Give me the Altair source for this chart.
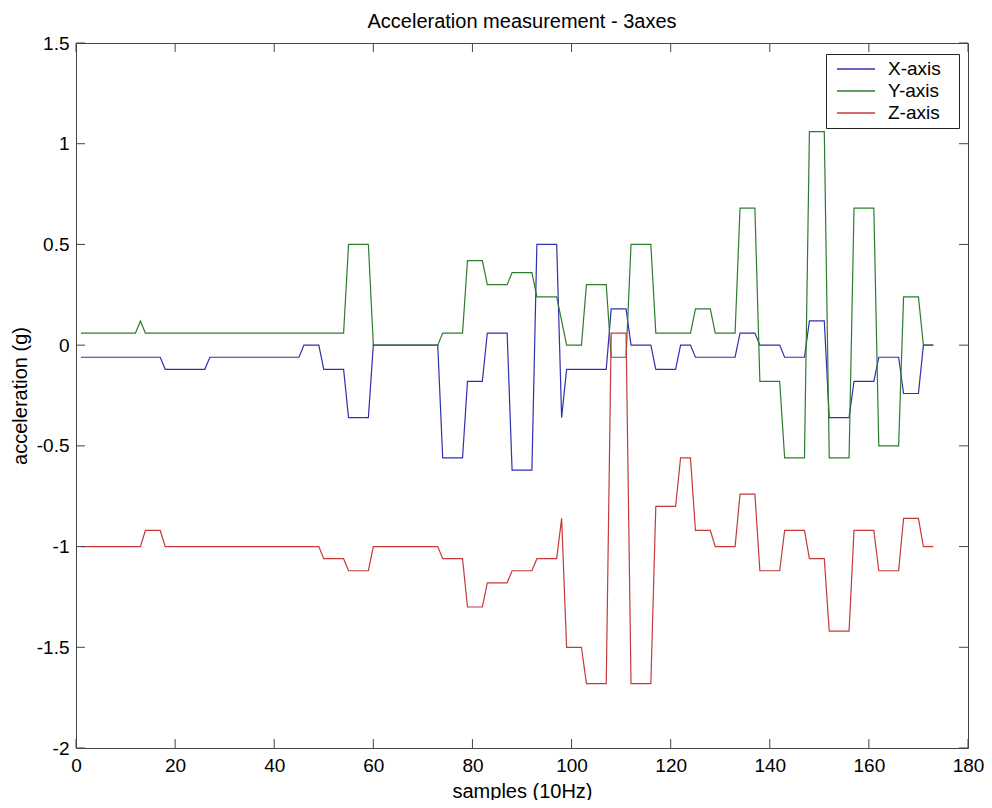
import altair as alt
import pandas as pd

# ---------------- data ----------------
samples = list(range(1, 174))

x_axis = [
    -0.06, -0.06, -0.06, -0.06, -0.06, -0.06, -0.06, -0.06, -0.06, -0.06,
    -0.06, -0.06, -0.06, -0.06, -0.06, -0.06, -0.06, -0.12, -0.12, -0.12,
    -0.12, -0.12, -0.12, -0.12, -0.12, -0.12, -0.06, -0.06, -0.06, -0.06,
    -0.06, -0.06, -0.06, -0.06, -0.06, -0.06, -0.06, -0.06, -0.06, -0.06,
    -0.06, -0.06, -0.06, -0.06, -0.06, 0, 0, 0, 0, -0.12,
    -0.12, -0.12, -0.12, -0.12, -0.36, -0.36, -0.36, -0.36, -0.36, 0,
    0, 0, 0, 0, 0, 0, 0, 0, 0, 0,
    0, 0, 0, -0.56, -0.56, -0.56, -0.56, -0.56, -0.18, -0.18,
    -0.18, -0.18, 0.06, 0.06, 0.06, 0.06, 0.06, -0.62, -0.62, -0.62,
    -0.62, -0.62, 0.5, 0.5, 0.5, 0.5, 0.5, -0.36, -0.12, -0.12,
    -0.12, -0.12, -0.12, -0.12, -0.12, -0.12, -0.12, 0.18, 0.18, 0.18,
    0.18, 0, 0, 0, 0, 0, -0.12, -0.12, -0.12, -0.12,
    -0.12, 0, 0, 0, -0.06, -0.06, -0.06, -0.06, -0.06, -0.06,
    -0.06, -0.06, -0.06, 0.06, 0.06, 0.06, 0.06, 0, 0, 0,
    0, 0, -0.06, -0.06, -0.06, -0.06, -0.06, 0.12, 0.12, 0.12,
    0.12, -0.36, -0.36, -0.36, -0.36, -0.36, -0.18, -0.18, -0.18, -0.18,
    -0.18, -0.06, -0.06, -0.06, -0.06, -0.06, -0.24, -0.24, -0.24, -0.24,
    0, 0, 0,
]

y_axis = [
    0.06, 0.06, 0.06, 0.06, 0.06, 0.06, 0.06, 0.06, 0.06, 0.06,
    0.06, 0.06, 0.12, 0.06, 0.06, 0.06, 0.06, 0.06, 0.06, 0.06,
    0.06, 0.06, 0.06, 0.06, 0.06, 0.06, 0.06, 0.06, 0.06, 0.06,
    0.06, 0.06, 0.06, 0.06, 0.06, 0.06, 0.06, 0.06, 0.06, 0.06,
    0.06, 0.06, 0.06, 0.06, 0.06, 0.06, 0.06, 0.06, 0.06, 0.06,
    0.06, 0.06, 0.06, 0.06, 0.5, 0.5, 0.5, 0.5, 0.5, 0,
    0, 0, 0, 0, 0, 0, 0, 0, 0, 0,
    0, 0, 0, 0.06, 0.06, 0.06, 0.06, 0.06, 0.42, 0.42,
    0.42, 0.42, 0.3, 0.3, 0.3, 0.3, 0.3, 0.36, 0.36, 0.36,
    0.36, 0.36, 0.24, 0.24, 0.24, 0.24, 0.24, 0.12, 0, 0,
    0, 0, 0.3, 0.3, 0.3, 0.3, 0.3, -0.06, -0.06, -0.06,
    -0.06, 0.5, 0.5, 0.5, 0.5, 0.5, 0.06, 0.06, 0.06, 0.06,
    0.06, 0.06, 0.06, 0.06, 0.18, 0.18, 0.18, 0.18, 0.06, 0.06,
    0.06, 0.06, 0.06, 0.68, 0.68, 0.68, 0.68, -0.18, -0.18, -0.18,
    -0.18, -0.18, -0.56, -0.56, -0.56, -0.56, -0.56, 1.06, 1.06, 1.06,
    1.06, -0.56, -0.56, -0.56, -0.56, -0.56, 0.68, 0.68, 0.68, 0.68,
    0.68, -0.5, -0.5, -0.5, -0.5, -0.5, 0.24, 0.24, 0.24, 0.24,
    0, 0, 0,
]

z_axis = [
    -1, -1, -1, -1, -1, -1, -1, -1, -1, -1,
    -1, -1, -1, -0.92, -0.92, -0.92, -0.92, -1, -1, -1,
    -1, -1, -1, -1, -1, -1, -1, -1, -1, -1,
    -1, -1, -1, -1, -1, -1, -1, -1, -1, -1,
    -1, -1, -1, -1, -1, -1, -1, -1, -1, -1.06,
    -1.06, -1.06, -1.06, -1.06, -1.12, -1.12, -1.12, -1.12, -1.12, -1,
    -1, -1, -1, -1, -1, -1, -1, -1, -1, -1,
    -1, -1, -1, -1.06, -1.06, -1.06, -1.06, -1.06, -1.3, -1.3,
    -1.3, -1.3, -1.18, -1.18, -1.18, -1.18, -1.18, -1.12, -1.12, -1.12,
    -1.12, -1.12, -1.06, -1.06, -1.06, -1.06, -1.06, -0.86, -1.5, -1.5,
    -1.5, -1.5, -1.68, -1.68, -1.68, -1.68, -1.68, 0.06, 0.06, 0.06,
    0.06, -1.68, -1.68, -1.68, -1.68, -1.68, -0.8, -0.8, -0.8, -0.8,
    -0.8, -0.56, -0.56, -0.56, -0.92, -0.92, -0.92, -0.92, -1, -1,
    -1, -1, -1, -0.74, -0.74, -0.74, -0.74, -1.12, -1.12, -1.12,
    -1.12, -1.12, -0.92, -0.92, -0.92, -0.92, -0.92, -1.06, -1.06, -1.06,
    -1.06, -1.42, -1.42, -1.42, -1.42, -1.42, -0.92, -0.92, -0.92, -0.92,
    -0.92, -1.12, -1.12, -1.12, -1.12, -1.12, -0.86, -0.86, -0.86, -0.86,
    -1, -1, -1,
]

series_names = ["X-axis", "Y-axis", "Z-axis"]
series_colors = ["#3030b0", "#2e7d2e", "#c43a3a"]
x_tick_values = [0, 20, 40, 60, 80, 100, 120, 140, 160, 180]
y_tick_values = [-2, -1.5, -1, -0.5, 0, 0.5, 1, 1.5]

assert len(x_axis) == len(y_axis) == len(z_axis) == len(samples)

rows = []
for name, vals in zip(series_names, [x_axis, y_axis, z_axis]):
    for s, v in zip(samples, vals):
        rows.append({"sample": s, "value": v, "series": name})
df = pd.DataFrame(rows)

# ---------------- layout / style ----------------
W, H = 892, 705
FONT = "Liberation Sans"
TICK = 9
FRAME = "#444444"

x_scale = alt.Scale(domain=[0, 180], nice=False, zero=False)
y_scale = alt.Scale(domain=[-2, 1.5], nice=False, zero=False)

x_axis_def = alt.Axis(
    values=x_tick_values, title="samples (10Hz)", ticks=False, tickSize=0,
    domain=False, grid=False, labelPadding=8, labelFontSize=19,
    labelColor="black", labelFont=FONT, titleFont=FONT, titleFontSize=20,
    titleFontWeight="normal", titleColor="black", titlePadding=6,
    labelFlush=False, labelOverlap=False,
)
y_axis_def = alt.Axis(
    values=y_tick_values, title="acceleration (g)", ticks=False, tickSize=0,
    domain=False, grid=False, labelPadding=7, labelFontSize=19,
    labelColor="black", labelFont=FONT, titleFont=FONT, titleFontSize=20,
    titleFontWeight="normal", titleColor="black", titlePadding=6,
    labelExpr="'' + datum.value", labelFlush=False, labelOverlap=False,
)

lines = alt.Chart(df).mark_line(strokeWidth=1.2).encode(
    x=alt.X("sample:Q", scale=x_scale, axis=x_axis_def),
    y=alt.Y("value:Q", scale=y_scale, axis=y_axis_def),
    color=alt.Color(
        "series:N",
        scale=alt.Scale(domain=series_names, range=series_colors),
        legend=alt.Legend(
            title="\u00a0", titleOrient="right", titlePadding=13,
            titleFontSize=19, titleFont=FONT,
            orient="none", legendX=750, legendY=11,
            symbolType="stroke", symbolSize=1444, symbolStrokeWidth=1.5,
            clipHeight=20, padding=5, rowPadding=2, symbolOffset=5,
            labelOffset=12, labelFontSize=19, labelFont=FONT,
            labelColor="black", strokeColor="#222222", fillColor="white",
        ),
    ),
)

xt = pd.DataFrame({"sample": x_tick_values})
yt = pd.DataFrame({"value": y_tick_values})

top_ticks = alt.Chart(xt).mark_rule(color=FRAME, strokeWidth=1).encode(
    x=alt.X("sample:Q", scale=x_scale, axis=x_axis_def),
    y=alt.value(0), y2=alt.value(TICK),
)
bottom_ticks = alt.Chart(xt).mark_rule(color=FRAME, strokeWidth=1).encode(
    x=alt.X("sample:Q", scale=x_scale, axis=x_axis_def),
    y=alt.value(H), y2=alt.value(H - TICK),
)
left_ticks = alt.Chart(yt).mark_rule(color=FRAME, strokeWidth=1).encode(
    y=alt.Y("value:Q", scale=y_scale, axis=y_axis_def),
    x=alt.value(0), x2=alt.value(TICK),
)
right_ticks = alt.Chart(yt).mark_rule(color=FRAME, strokeWidth=1).encode(
    y=alt.Y("value:Q", scale=y_scale, axis=y_axis_def),
    x=alt.value(W), x2=alt.value(W - TICK),
)

chart = (
    alt.layer(lines, top_ticks, bottom_ticks, left_ticks, right_ticks)
    .properties(
        width=W, height=H,
        padding={"left": 68, "top": 35, "right": 16, "bottom": 52},
        autosize=alt.AutoSizeParams(type="none"),
        title=alt.TitleParams(
            "Acceleration measurement - 3axes", fontSize=20,
            fontWeight="normal", font=FONT, color="black", anchor="middle",
            offset=2,
        ),
    )
    .configure(font=FONT, background="white")
    .configure_view(stroke=FRAME, strokeWidth=1)
)

chart.save("out.html", embed_options={"renderer": "svg", "actions": False})
